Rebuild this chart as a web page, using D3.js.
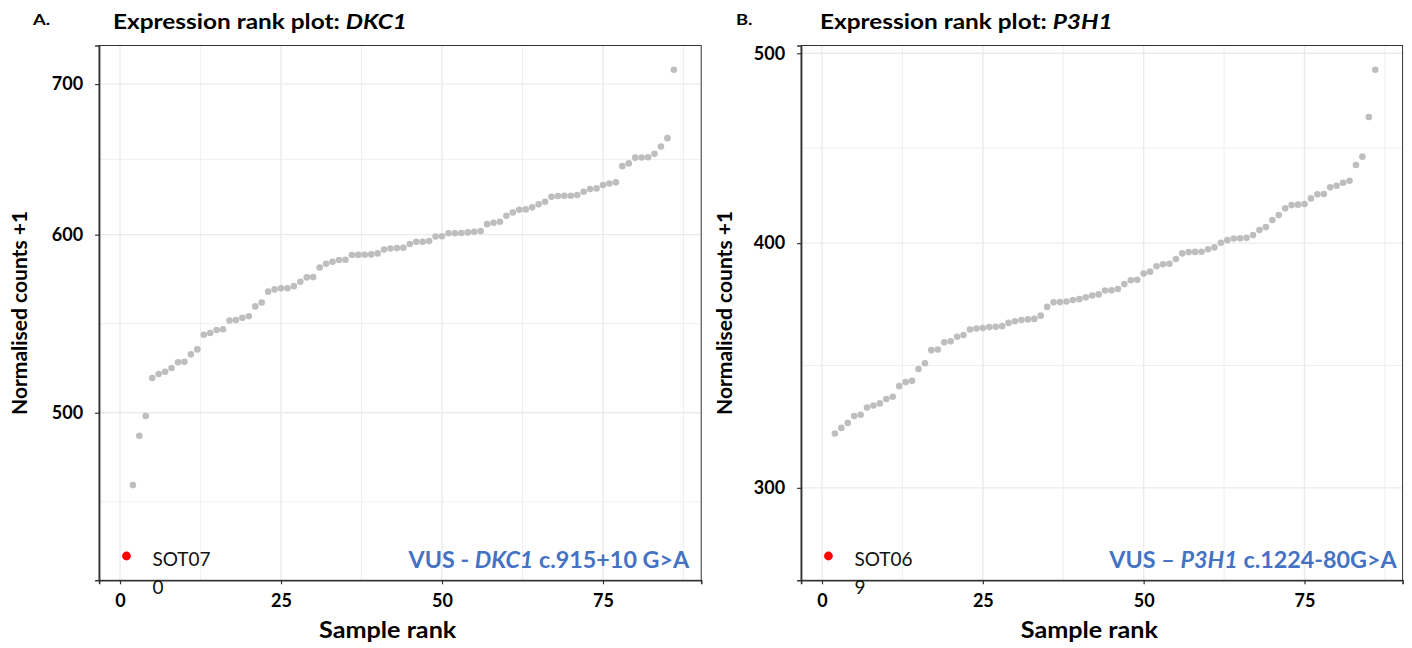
<!DOCTYPE html>
<html>
<head>
<meta charset="utf-8">
<script src="https://cdn.jsdelivr.net/npm/d3@7"></script>
<style>
  html, body { margin: 0; padding: 0; background: #fff; }
  svg { display: block; font-family: Lato, "Open Sans", sans-serif; }
</style>
</head>
<body>
<svg id="chart" width="1412" height="648"></svg>
<script>
// ---------- DATA ----------
// Panel A: DKC1 normalised counts +1, samples ranked 2..86 (rank 1 is the highlighted sample)
const dkc1Values = [
  464.3, 488.4, 498.3, 518.1, 520.2, 521.4, 523.4, 526.5, 526.8, 530.8,
  533.5, 541.5, 542.5, 544.2, 544.6, 549.5, 549.8, 551.0, 551.9, 557.5,
  559.7, 566.0, 567.3, 567.9, 568.0, 569.2, 571.8, 574.3, 574.5, 580.2,
  582.4, 583.6, 584.6, 584.8, 587.6, 587.7, 587.8, 588.0, 588.6, 590.9,
  591.6, 591.8, 592.0, 594.3, 595.6, 595.7, 596.1, 598.9, 599.0, 600.9,
  600.9, 601.0, 601.4, 601.8, 602.2, 606.5, 607.4, 608.0, 611.7, 613.8,
  615.5, 615.7, 617.0, 618.9, 620.6, 623.7, 624.2, 624.3, 624.4, 624.8,
  626.9, 628.7, 629.1, 631.3, 632.3, 633.0, 643.6, 645.4, 649.2, 649.3,
  649.5, 651.8, 656.7, 662.3, 710.3
];
const dkc1Highlight = { sample: "SOT070", value: 431.8 };
const dkc1YTicks = [500, 600, 700];

// Panel B: P3H1 normalised counts +1
const p3h1Values = [
  319.8, 321.9, 323.8, 326.4, 326.9, 329.7, 330.5, 331.3, 333.0, 333.9,
  338.1, 339.7, 340.2, 345.0, 347.3, 352.7, 353.0, 356.0, 356.4, 358.3,
  359.0, 361.4, 361.8, 362.0, 362.4, 362.5, 362.8, 364.2, 364.9, 365.4,
  365.7, 365.9, 367.3, 371.1, 373.1, 373.2, 373.5, 374.1, 374.5, 375.3,
  376.1, 376.6, 378.3, 378.4, 379.0, 381.2, 382.9, 383.1, 386.0, 386.8,
  389.3, 390.2, 390.4, 392.6, 395.2, 395.8, 395.9, 396.0, 397.1, 398.0,
  400.2, 401.4, 402.2, 402.3, 402.5, 403.8, 406.2, 407.6, 411.0, 413.4,
  416.7, 418.3, 418.5, 418.8, 421.6, 423.6, 423.8, 427.1, 427.9, 429.4,
  430.4, 438.5, 442.8, 463.9, 490.4
];
const p3h1Highlight = { sample: "SOT069", value: 276.9 };
const p3h1YTicks = [300, 400, 500];

const xTicks = [0, 25, 50, 75];

// ---------- DRAW ----------
const svg = d3.select("#chart");
const GREY = "#bebebe", GRID = "#ebebeb", AXIS = "#333333", BLUE = "#4472c4";

// horizontally widened text (the original's font is wider than the installed one)
function wideText(parent, x, y, sx) {
  return parent.append("text").attr("transform", `translate(${x},${y}) scale(${sx},1)`);
}

function panel(cfg) {
  const { left, right, top, bottom } = cfg.box;
  const g = svg.append("g");

  const pts = [{ rank: 1, value: cfg.highlight.value, hi: true }]
    .concat(cfg.values.map((v, i) => ({ rank: i + 2, value: v, hi: false })));

  const xExt = d3.extent(pts, d => d.rank);
  const xPad = (xExt[1] - xExt[0]) * 0.05;
  const x = d3.scaleLinear().domain([xExt[0] - xPad, xExt[1] + xPad]).range([left, right]);

  const lExt = d3.extent(pts, d => Math.log10(d.value));
  const lPad = (lExt[1] - lExt[0]) * 0.05;
  const y = d3.scaleLog()
    .domain([Math.pow(10, lExt[0] - lPad), Math.pow(10, lExt[1] + lPad)])
    .range([bottom, top]);

  // minor breaks: midpoints in log space (ggplot style)
  const lt = cfg.yTicks.map(Math.log10);
  const ext = [lt[0] - (lt[1] - lt[0])].concat(lt, [lt[lt.length - 1] + (lt[lt.length - 1] - lt[lt.length - 2])]);
  const yMinor = [];
  for (let i = 0; i < ext.length - 1; i++) yMinor.push(Math.pow(10, (ext[i] + ext[i + 1]) / 2));
  const [d0, d1] = y.domain();
  const yMinorIn = yMinor.filter(v => v > d0 && v < d1);

  const xMinor = [];
  const xAll = [xTicks[0] - 25].concat(xTicks, [xTicks[xTicks.length - 1] + 25]);
  for (let i = 0; i < xAll.length - 1; i++) xMinor.push((xAll[i] + xAll[i + 1]) / 2);
  const xMinorIn = xMinor.filter(v => v > x.domain()[0] && v < x.domain()[1]);

  // grid
  g.selectAll(".ymin").data(yMinorIn).join("line")
    .attr("x1", left).attr("x2", right).attr("y1", d => y(d)).attr("y2", d => y(d))
    .attr("stroke", GRID).attr("stroke-width", 0.8);
  g.selectAll(".xmin").data(xMinorIn).join("line")
    .attr("y1", top).attr("y2", bottom).attr("x1", d => x(d)).attr("x2", d => x(d))
    .attr("stroke", GRID).attr("stroke-width", 0.8);
  g.selectAll(".ymaj").data(cfg.yTicks).join("line")
    .attr("x1", left).attr("x2", right).attr("y1", d => y(d)).attr("y2", d => y(d))
    .attr("stroke", GRID).attr("stroke-width", 1.4);
  g.selectAll(".xmaj").data(xTicks).join("line")
    .attr("y1", top).attr("y2", bottom).attr("x1", d => x(d)).attr("x2", d => x(d))
    .attr("stroke", GRID).attr("stroke-width", 1.4);

  // points
  g.selectAll(".pt").data(pts.filter(d => !d.hi)).join("circle")
    .attr("cx", d => x(d.rank)).attr("cy", d => y(d.value)).attr("r", 3.3).attr("fill", GREY);
  g.selectAll(".hi").data(pts.filter(d => d.hi)).join("circle")
    .attr("cx", d => x(d.rank)).attr("cy", d => y(d.value)).attr("r", 4.4).attr("fill", "#ff0000");

  // border
  g.append("rect").attr("x", left).attr("y", top).attr("width", right - left).attr("height", bottom - top)
    .attr("fill", "none").attr("stroke", AXIS).attr("stroke-width", 1);

  // axes
  const yAxis = d3.axisLeft(y).tickValues(cfg.yTicks).tickFormat(d3.format("d")).tickSize(4).tickPadding(12);
  const gy = g.append("g").attr("transform", `translate(${left},0)`).call(yAxis);
  const xAxis = d3.axisBottom(x).tickValues(xTicks).tickFormat(d3.format("d")).tickSize(4).tickPadding(6);
  const gx = g.append("g").attr("transform", `translate(0,${bottom})`).call(xAxis);
  [gy, gx].forEach(a => {
    a.select(".domain").attr("stroke", AXIS).attr("stroke-width", 1.6);
    a.selectAll(".tick line").attr("stroke", AXIS).attr("stroke-width", 1.2);
    a.selectAll(".tick text").attr("fill", "#000").attr("font-size", 18).attr("font-weight", "bold")
      .attr("font-family", "Lato, sans-serif");
  });
  gx.selectAll(".tick text").attr("dy", "0.95em");

  // highlight label (wrapped as in the original)
  const hx = x(1), hy = y(cfg.highlight.value);
  const lbl = g.append("text").attr("font-size", 19).attr("fill", "#111").attr("font-family", "Lato, sans-serif");
  lbl.append("tspan").attr("x", hx + 26).attr("y", hy + 10).text(cfg.highlight.sample.slice(0, 5));
  lbl.append("tspan").attr("x", hx + 26).attr("y", hy + 38).text(cfg.highlight.sample.slice(5));

  // variant label
  const vt = wideText(g, right - cfg.vusInset, 568, 1.06).attr("text-anchor", "end")
    .attr("fill", BLUE).attr("font-size", 22).attr("font-weight", "bold");
  vt.append("tspan").text(cfg.vus[0]);
  vt.append("tspan").attr("font-style", "italic").text(cfg.vus[1]);
  vt.append("tspan").text(cfg.vus[2]);

  // titles
  const t = wideText(g, cfg.titleX, 29, 1.22).attr("font-size", 20).attr("font-weight", "bold").attr("fill", "#000");
  t.append("tspan").text("Expression rank plot: ");
  t.append("tspan").attr("font-style", "italic").text(cfg.gene);
  wideText(g, cfg.letterX, 25, 1.15).attr("font-size", 16).attr("font-weight", "bold").text(cfg.letter);

  g.append("text").attr("transform", `translate(${cfg.yTitleX},${(top + bottom) / 2}) rotate(-90)`)
    .attr("text-anchor", "middle").attr("font-size", 21).attr("font-weight", "bold").text("Normalised counts +1");
  wideText(g, (left + right) / 2 - 12.5, 638, 1.145).attr("text-anchor", "middle")
    .attr("font-size", 22).attr("font-weight", "bold").text("Sample rank");
}

panel({
  box: { left: 99.1, right: 701.2, top: 45.5, bottom: 580.3 },
  values: dkc1Values, highlight: dkc1Highlight, yTicks: dkc1YTicks,
  gene: "DKC1", letter: "A.", letterX: 33, titleX: 113, yTitleX: 27,
  vus: ["VUS - ", "DKC1", " c.915+10 G>A"], vusInset: 12
});
panel({
  box: { left: 801.1, right: 1402.6, top: 45.5, bottom: 580.3 },
  values: p3h1Values, highlight: p3h1Highlight, yTicks: p3h1YTicks,
  gene: "P3H1", letter: "B.", letterX: 736, titleX: 820, yTitleX: 732,
  vus: ["VUS \u2013 ", "P3H1", " c.1224-80G>A"], vusInset: 6
});
</script>
</body>
</html>
